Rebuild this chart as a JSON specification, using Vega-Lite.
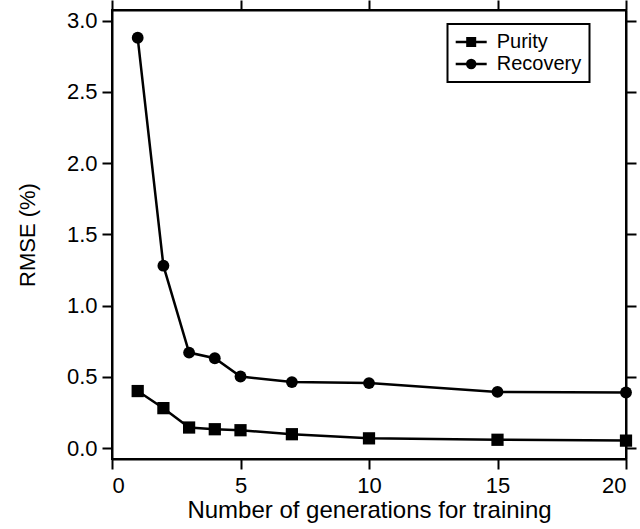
{
  "$schema": "https://vega.github.io/schema/vega-lite/v6.json",
  "autosize": "none",
  "width": 514,
  "height": 449,
  "padding": {"left": 112, "top": 10, "right": 14, "bottom": 70},
  "background": "white",
  "config": {
    "view": {"stroke": "black", "strokeWidth": 2},
    "font": "Liberation Sans",
    "legend": {"strokeWidth": 2},
    "axis": {
      "grid": false,
      "domainColor": "black",
      "domainWidth": 2,
      "tickColor": "black",
      "tickWidth": 2,
      "tickSize": 10,
      "labelColor": "black",
      "labelFont": "Liberation Sans",
      "labelFontSize": 22,
      "titleColor": "black",
      "titleFont": "Liberation Sans",
      "titleFontWeight": "normal"
    }
  },
  "data": {
    "values": [
      {"gen": 1, "series": "Purity", "rmse": 0.40},
      {"gen": 2, "series": "Purity", "rmse": 0.28},
      {"gen": 3, "series": "Purity", "rmse": 0.144},
      {"gen": 4, "series": "Purity", "rmse": 0.132},
      {"gen": 5, "series": "Purity", "rmse": 0.125},
      {"gen": 7, "series": "Purity", "rmse": 0.097},
      {"gen": 10, "series": "Purity", "rmse": 0.068},
      {"gen": 15, "series": "Purity", "rmse": 0.058},
      {"gen": 20, "series": "Purity", "rmse": 0.052},
      {"gen": 1, "series": "Recovery", "rmse": 2.88},
      {"gen": 2, "series": "Recovery", "rmse": 1.28},
      {"gen": 3, "series": "Recovery", "rmse": 0.67},
      {"gen": 4, "series": "Recovery", "rmse": 0.63},
      {"gen": 5, "series": "Recovery", "rmse": 0.502},
      {"gen": 7, "series": "Recovery", "rmse": 0.463},
      {"gen": 10, "series": "Recovery", "rmse": 0.456},
      {"gen": 15, "series": "Recovery", "rmse": 0.394},
      {"gen": 20, "series": "Recovery", "rmse": 0.39}
    ]
  },
  "layer": [
    {
      "mark": {"type": "line", "color": "black", "strokeWidth": 2.5},
      "encoding": {
        "x": {
          "field": "gen", "type": "quantitative",
          "scale": {"domain": [0, 20], "nice": false, "zero": false},
          "axis": {
            "orient": "bottom",
            "values": [0, 5, 10, 15, 20],
            "labelPadding": 6,
            "title": "Number of generations for training",
            "titleFontSize": 24,
            "titlePadding": 2
          }
        },
        "y": {
          "field": "rmse", "type": "quantitative",
          "scale": {"domain": [-0.077, 3.075], "nice": false, "zero": false},
          "axis": {
            "orient": "left",
            "values": [0, 0.5, 1, 1.5, 2, 2.5, 3],
            "format": ".1f",
            "labelPadding": 5,
            "title": "RMSE (%)",
            "titleFontSize": 22,
            "titlePadding": 27
          }
        },
        "detail": {"field": "series"}
      }
    },
    {
      "transform": [{"filter": "datum.series === 'Purity'"}],
      "mark": {"type": "point", "shape": "square", "filled": true, "color": "black", "opacity": 1, "size": 150},
      "encoding": {
        "x": {
          "field": "gen", "type": "quantitative",
          "axis": {"orient": "top", "values": [0, 5, 10, 15, 20], "labels": false, "title": null}
        },
        "y": {
          "field": "rmse", "type": "quantitative",
          "axis": {"orient": "right", "values": [0, 0.5, 1, 1.5, 2, 2.5, 3], "labels": false, "title": null}
        }
      }
    },
    {
      "transform": [{"filter": "datum.series === 'Recovery'"}],
      "mark": {"type": "point", "shape": "circle", "filled": true, "color": "black", "opacity": 1, "size": 140},
      "encoding": {
        "x": {"field": "gen", "type": "quantitative", "axis": null},
        "y": {"field": "rmse", "type": "quantitative", "axis": null}
      }
    },
    {
      "mark": {"type": "point", "filled": false, "color": "black", "strokeWidth": 2.5, "opacity": 0},
      "encoding": {
        "x": {"field": "gen", "type": "quantitative", "axis": null},
        "y": {"field": "rmse", "type": "quantitative", "axis": null},
        "shape": {
          "field": "series", "type": "nominal",
          "scale": {
            "domain": ["Purity", "Recovery"],
            "range": [
              "M-3.1,0H3.1M-0.75,-0.75H0.75V0.75H-0.75ZM-0.5,-0.5H0.5V0.5H-0.5ZM-0.25,-0.25H0.25V0.25H-0.25Z",
              "M-3.1,0H3.1M-0.8,0A0.8,0.8,0,1,0,0.8,0A0.8,0.8,0,1,0,-0.8,0ZM-0.5,0A0.5,0.5,0,1,0,0.5,0A0.5,0.5,0,1,0,-0.5,0ZM-0.22,0A0.22,0.22,0,1,0,0.22,0A0.22,0.22,0,1,0,-0.22,0Z"
            ]
          },
          "legend": {
            "orient": "none",
            "legendX": 335.5,
            "legendY": 14,
            "title": null,
            "padding": 8,
            "strokeColor": "black",
            "labelFont": "Liberation Sans",
            "labelFontSize": 20,
            "labelColor": "black",
            "labelOffset": 15.5,
            "symbolSize": 100,
            "symbolOffset": 5.7,
            "symbolStrokeWidth": 2.5,
            "symbolStrokeColor": "black",
            "symbolOpacity": 1,
            "rowPadding": 2
          }
        }
      }
    }
  ]
}
